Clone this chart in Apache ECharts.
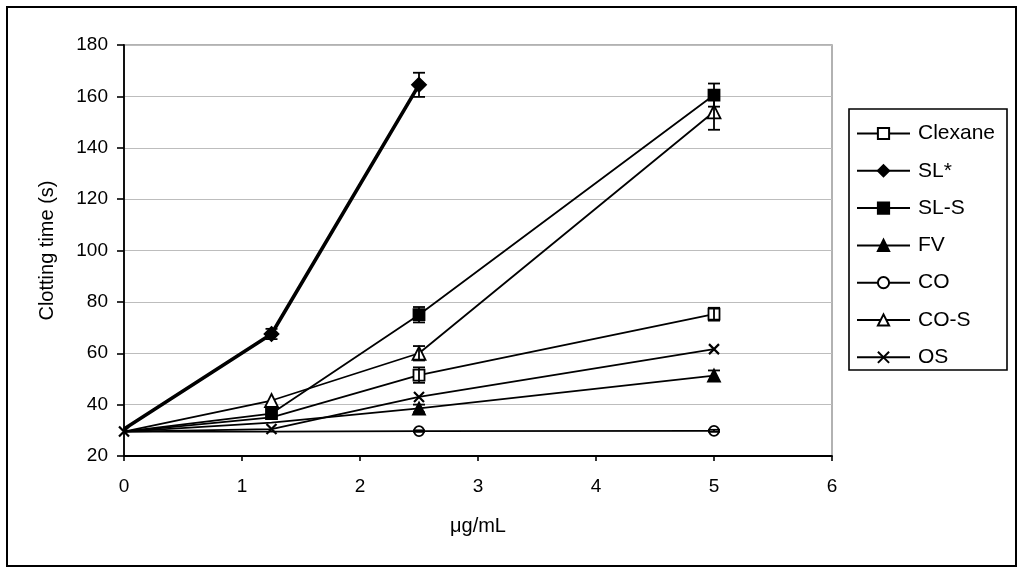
<!DOCTYPE html>
<html>
<head>
<meta charset="utf-8">
<script src="https://cdn.jsdelivr.net/npm/echarts@6/dist/echarts.min.js"></script>
<style>
html,body{margin:0;padding:0;background:#fff;}
#c{width:1024px;height:572px;}
</style>
</head>
<body>
<div id="c"></div>
<script>
// Data
var xVals = [0, 1.25, 2.5, 5];
var seriesNames = ['Clexane', 'SL*', 'SL-S', 'FV', 'CO', 'CO-S', 'OS'];
var clexane = [29.5, 35, 51.5, 75.2];
var sl = [30.5, 67.5, 164.5];
var slS = [29.5, 36.5, 75, 160.5];
var fv = [29.5, 33, 38.5, 51.3];
var co = [29.5, 29.5, 29.7, 29.8];
var coS = [29.5, 41.6, 60, 154];
var os = [29.5, 30.5, 43, 61.6];

var clexaneErr = [0, 0, 3, 2.5];
var slErr = [0, 2, 4.7];
var slSErr = [0, 0, 3, 4.5];
var fvErr = [0, 0, 1.5, 2];
var coErr = [0, 0, 0.3, 0.4];
var coSErr = [0, 0, 2.8, 7];
var osErr = [0, 0, 0, 0];

var xTicks = [0, 1, 2, 3, 4, 5, 6];
var yTicks = [20, 40, 60, 80, 100, 120, 140, 160, 180];

function pts(vals, hidden) {
  return vals.map(function (v, i) {
    var p = { value: [xVals[i], v] };
    if (hidden.indexOf(i) >= 0) p.symbol = 'none';
    return p;
  });
}
function errPts(vals, errs) {
  var out = [];
  vals.forEach(function (v, i) { if (errs[i] > 0) out.push([xVals[i], v, errs[i]]); });
  return out;
}

var lineDefs = [
  { name: 'Clexane', data: clexane, err: clexaneErr, symbol: 'rect', size: 11, fill: '#fff', width: 1.8, hide: [0, 1] },
  { name: 'SL*', data: sl, err: slErr, symbol: 'diamond', size: 14, fill: '#000', width: 3.6, hide: [0] },
  { name: 'SL-S', data: slS, err: slSErr, symbol: 'rect', size: 11, fill: '#000', width: 1.8, hide: [0] },
  { name: 'FV', data: fv, err: fvErr, symbol: 'triangle', size: 12, fill: '#000', width: 1.8, hide: [0, 1] },
  { name: 'CO', data: co, err: coErr, symbol: 'circle', size: 10, fill: '#fff', width: 1.8, hide: [0, 1] },
  { name: 'CO-S', data: coS, err: coSErr, symbol: 'triangle', size: 13, fill: '#fff', width: 1.8, hide: [0] },
  { name: 'OS', data: os, err: osErr, symbol: 'path://M0,0L10,10M10,0L0,10', size: 10, fill: '#000', width: 1.8, hide: [] }
];

var series = [];
lineDefs.forEach(function (d) {
  series.push({
    name: d.name,
    type: 'line',
    data: pts(d.data, d.hide),
    symbol: d.symbol,
    symbolSize: d.size,
    showAllSymbol: true,
    lineStyle: { color: '#000', width: d.width },
    itemStyle: { color: d.fill, borderColor: '#000', borderWidth: d.name === 'OS' ? 2.2 : 1.8 },
    emphasis: { disabled: true },
    z: 3
  });
});
lineDefs.forEach(function (d) {
  var e = errPts(d.data, d.err);
  if (!e.length) return;
  series.push({
    type: 'custom',
    name: d.name + ' err',
    data: e,
    z: 4,
    silent: true,
    renderItem: function (params, api) {
      var x = api.value(0), y = api.value(1), er = api.value(2);
      var top = api.coord([x, y + er]);
      var bot = api.coord([x, y - er]);
      var hw = 6;
      var st = { stroke: '#000', lineWidth: 1.8 };
      return {
        type: 'group',
        children: [
          { type: 'line', shape: { x1: top[0], y1: top[1], x2: bot[0], y2: bot[1] }, style: st },
          { type: 'line', shape: { x1: top[0] - hw, y1: top[1], x2: top[0] + hw, y2: top[1] }, style: st },
          { type: 'line', shape: { x1: bot[0] - hw, y1: bot[1], x2: bot[0] + hw, y2: bot[1] }, style: st }
        ]
      };
    }
  });
});

var font = '"Liberation Sans", Arial, sans-serif';
var chart = echarts.init(document.getElementById('c'), null, { renderer: 'canvas' });
chart.setOption({
  animation: false,
  backgroundColor: '#fff',
  grid: { left: 124, top: 45, right: 192, bottom: 116, show: true, borderColor: '#999', borderWidth: 1.5, backgroundColor: 'transparent' },
  xAxis: {
    type: 'value', min: xTicks[0], max: xTicks[xTicks.length - 1], interval: 1,
    name: 'μg/mL', nameLocation: 'middle', nameGap: 60,
    nameTextStyle: { color: '#000', fontFamily: font, fontSize: 20 },
    axisLine: { show: true, lineStyle: { color: '#000', width: 1.8 } },
    axisTick: { show: true, length: 5, lineStyle: { color: '#000', width: 1.6 } },
    axisLabel: { color: '#000', fontFamily: font, fontSize: 19, margin: 21 },
    splitLine: { show: false }
  },
  yAxis: {
    type: 'value', min: yTicks[0], max: yTicks[yTicks.length - 1], interval: 20,
    name: 'Clotting time (s)', nameLocation: 'middle', nameGap: 67, nameRotate: 90,
    nameTextStyle: { color: '#000', fontFamily: font, fontSize: 20 },
    axisLine: { show: true, lineStyle: { color: '#000', width: 1.8 } },
    axisTick: { show: true, length: 7, lineStyle: { color: '#000', width: 1.6 } },
    axisLabel: { color: '#000', fontFamily: font, fontSize: 19, margin: 16 },
    splitLine: { show: true, lineStyle: { color: '#bdbdbd', width: 1 } }
  },
  legend: {
    data: seriesNames,
    orient: 'vertical',
    left: 856,
    top: 123,
    itemWidth: 53,
    itemHeight: 14,
    itemGap: 16.3,
    padding: 0,
    selectedMode: false,
    textStyle: { color: '#000', fontFamily: font, fontSize: 21, lineHeight: 20, padding: [0, 0, 0, 3] }
  },
  graphic: [
    { type: 'rect', shape: { x: 849, y: 109, width: 158, height: 261 }, style: { fill: 'none', stroke: '#000', lineWidth: 1.6 }, z: 10 },
    { type: 'rect', shape: { x: 7, y: 7, width: 1009, height: 559 }, style: { fill: 'none', stroke: '#000', lineWidth: 2 }, z: 10 }
  ],
  series: series
});
</script>
</body>
</html>
